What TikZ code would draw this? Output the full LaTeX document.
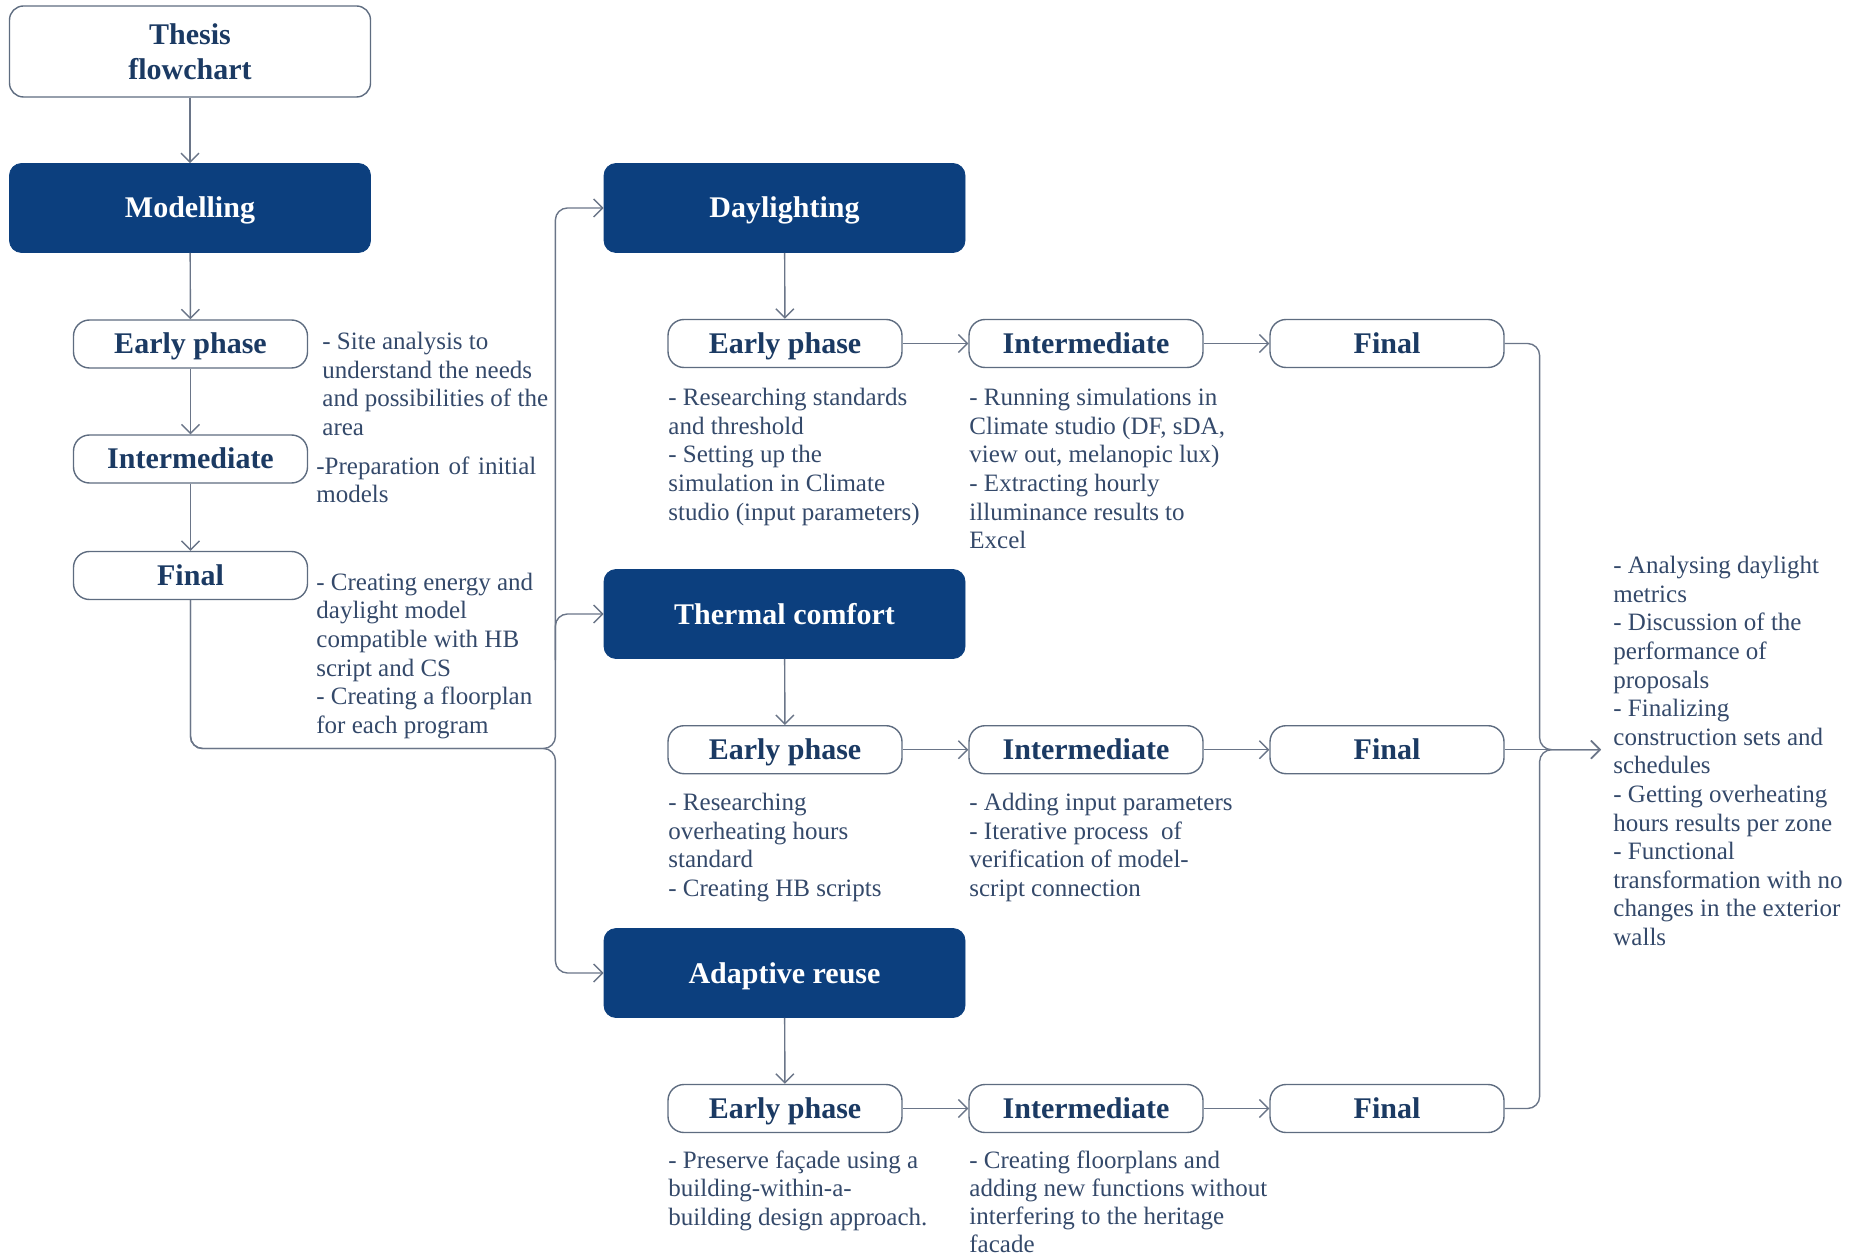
\documentclass[tikz,border=0pt]{standalone}
\usepackage{fontspec}
\setmainfont{Liberation Serif}
\usetikzlibrary{arrows.meta}
\definecolor{dkblue}{HTML}{0C3F7E}
\definecolor{lbl}{HTML}{1B3A63}
\definecolor{desct}{HTML}{34496A}
\definecolor{bline}{HTML}{5E6C80}
\definecolor{cline}{HTML}{6A7588}
\begin{document}
\begin{tikzpicture}[x=0.5pt,y=-0.5pt,
  dkbox/.style={rectangle, rounded corners=6pt, fill=dkblue, draw=dkblue, text=white,
    font=\bfseries\fontsize{15}{18}\selectfont, minimum width=180.5pt, minimum height=44.5pt, inner sep=0pt,
    text height=11pt, text depth=1pt},
  wbox/.style={rectangle, rounded corners=8pt, draw=bline, line width=0.7pt, fill=white, text=lbl,
    font=\bfseries\fontsize{15}{18}\selectfont, minimum width=117pt, minimum height=24pt, inner sep=0pt,
    text height=11pt, text depth=1pt},
  thesisbox/.style={rectangle, rounded corners=7pt, draw=bline, line width=0.7pt, fill=white, text=lbl,
    minimum width=180.5pt, minimum height=45.5pt, inner sep=0pt, align=center,
    font=\bfseries\fontsize{15}{17.75}\selectfont},
  desc/.style={text=desct, font=\fontsize{12.5}{14.3}\selectfont, align=left, anchor=north west, inner sep=0pt},
  conn/.style={draw=cline, line width=0.7pt, -{Straight Barb[length=4.5pt,width=9pt]}}
]
\useasboundingbox (0,0) rectangle (1857,1256);

% left column
\node[thesisbox] (thesis) at (190,51.5) {Thesis\\flowchart};
\node[dkbox] (model) at (190,208) {Modelling};
\node[wbox] (lep) at (190.5,344) {Early phase};
\node[wbox] (lin) at (190.5,459) {Intermediate};
\node[wbox] (lfin) at (190.5,575.5) {Final};

% main phases
\node[dkbox] (day) at (784.5,208) {Daylighting};
\node[dkbox] (the) at (784.5,614) {Thermal comfort};
\node[dkbox] (ada) at (784.5,973) {Adaptive reuse};

% rows
\node[wbox] (dep) at (785,343.5) {Early phase};
\node[wbox] (din) at (1086,343.5) {Intermediate};
\node[wbox] (dfin) at (1387,343.5) {Final};
\node[wbox] (tep) at (785,749.7) {Early phase};
\node[wbox] (tin) at (1086,749.7) {Intermediate};
\node[wbox] (tfin) at (1387,749.7) {Final};
\node[wbox] (aep) at (785,1108.5) {Early phase};
\node[wbox] (ain) at (1086,1108.5) {Intermediate};
\node[wbox] (afin) at (1387,1108.5) {Final};

% descriptions
\node[desc] (dsite) at (322,332) {- Site analysis to\\understand the needs\\and possibilities of the\\area};
\node[desc] (dprep) at (316,456) {\makebox[110pt][s]{-Preparation of initial}\\models};
\node[desc] (dcreate) at (316,572.5) {- Creating energy and\\daylight model\\compatible with HB\\script and CS\\- Creating a floorplan\\for each program};
\node[desc] (ddep) at (668,388) {- Researching standards\\and threshold\\- Setting up the\\simulation in Climate\\studio (input parameters)};
\node[desc] (ddin) at (969,388) {- Running simulations in\\Climate studio (DF, sDA,\\view out, melanopic lux)\\- Extracting hourly\\illuminance results to\\Excel};
\node[desc] (dtep) at (668,793) {- Researching\\overheating hours\\standard\\- Creating HB scripts};
\node[desc] (dtin) at (969,793) {- Adding input parameters\\- Iterative process\ \ of\\verification of model-\\script connection};
\node[desc] (daep) at (668,1150) {- Preserve façade using a\\building-within-a-\\building design approach.};
\node[desc, font=\fontsize{12.5}{14.1}\selectfont] (dain) at (969,1150) {- Creating floorplans and\\adding new functions without\\interfering to the heritage\\facade};
\node[desc] (dres) at (1613,556) {- Analysing daylight\\metrics\\- Discussion of the\\performance of\\proposals\\- Finalizing\\construction sets and\\schedules\\- Getting overheating\\hours results per zone\\- Functional\\transformation with no\\changes in the exterior\\walls};

% coordinates
\coordinate (bj) at (555.4,748.5);
\coordinate (tb) at (555.4,660);
\coordinate (mj) at (1539.6,749.7);
\coordinate (out) at (1601,749.7);

% left chain
\draw[conn] (thesis) -- (model);
\draw[conn] (model) -- (lep);
\draw[conn] (lep) -- (lin);
\draw[conn] (lin) -- (lfin);

% branch
\draw[conn, rounded corners=6pt] (lfin.south) |- (bj) |- (day.west);
\draw[conn, rounded corners=6pt] (lfin.south) |- (bj) |- (ada.west);
\draw[conn, rounded corners=6pt] (tb) |- (the.west);

% rows
\draw[conn] (day) -- (dep);
\draw[conn] (dep) -- (din);
\draw[conn] (din) -- (dfin);
\draw[conn] (the) -- (tep);
\draw[conn] (tep) -- (tin);
\draw[conn] (tin) -- (tfin);
\draw[conn] (ada) -- (aep);
\draw[conn] (aep) -- (ain);
\draw[conn] (ain) -- (afin);

% merge
\draw[conn, rounded corners=6pt] (dfin.east) -| (mj) -- (out);
\draw[conn, rounded corners=6pt] (afin.east) -| (mj) -- (out);
\draw[conn] (tfin.east) -- (out);
\end{tikzpicture}
\end{document}
